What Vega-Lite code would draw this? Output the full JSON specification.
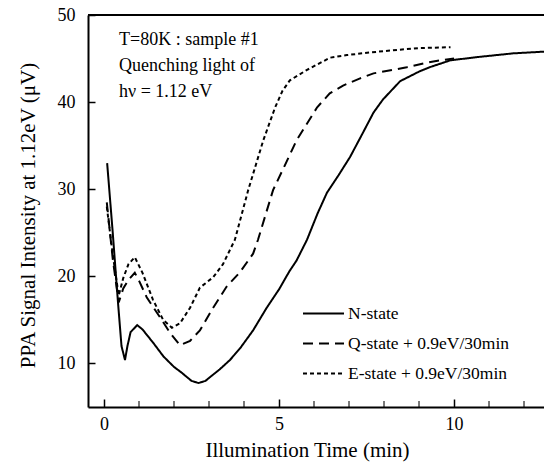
{
  "$schema": "https://vega.github.io/schema/vega-lite/v6.json",
  "width": 456,
  "height": 392,
  "autosize": {"type": "none"},
  "padding": {"left": 88, "top": 15, "right": 0, "bottom": 59},
  "background": "white",
  "view": {"stroke": null},
  "config": {
    "font": "Liberation Serif",
    "axis": {"grid": false, "domainColor": "black", "domainWidth": 2, "tickColor": "black", "tickWidth": 1.5, "labelColor": "black", "titleColor": "black", "labelFont": "Liberation Serif", "titleFont": "Liberation Serif", "titleFontWeight": "normal", "labelFontSize": 18, "titleFontSize": 21},
    "axisY": {"titleX": -60, "titleY": 200, "titleBaseline": "middle", "titleAlign": "center", "titleAngle": -90}
  },
  "layer": [
    {
      "data": {"values": [
        {"state": "N-state", "t": 0.09, "v": 33.0},
        {"state": "N-state", "t": 0.25, "v": 25.0},
        {"state": "N-state", "t": 0.4, "v": 17.0},
        {"state": "N-state", "t": 0.5, "v": 12.0},
        {"state": "N-state", "t": 0.6, "v": 10.4},
        {"state": "N-state", "t": 0.67, "v": 12.0},
        {"state": "N-state", "t": 0.76, "v": 13.6},
        {"state": "N-state", "t": 0.95, "v": 14.4},
        {"state": "N-state", "t": 1.1, "v": 13.9},
        {"state": "N-state", "t": 1.4, "v": 12.4},
        {"state": "N-state", "t": 1.7, "v": 10.8},
        {"state": "N-state", "t": 2.0, "v": 9.6},
        {"state": "N-state", "t": 2.2, "v": 9.0},
        {"state": "N-state", "t": 2.5, "v": 8.0},
        {"state": "N-state", "t": 2.7, "v": 7.75},
        {"state": "N-state", "t": 2.9, "v": 8.0},
        {"state": "N-state", "t": 3.05, "v": 8.5},
        {"state": "N-state", "t": 3.3, "v": 9.3},
        {"state": "N-state", "t": 3.6, "v": 10.4},
        {"state": "N-state", "t": 3.9, "v": 11.8},
        {"state": "N-state", "t": 4.26, "v": 13.8},
        {"state": "N-state", "t": 4.65, "v": 16.4},
        {"state": "N-state", "t": 5.0, "v": 18.5},
        {"state": "N-state", "t": 5.3, "v": 20.6},
        {"state": "N-state", "t": 5.5, "v": 21.8},
        {"state": "N-state", "t": 5.8, "v": 24.2},
        {"state": "N-state", "t": 6.1, "v": 27.2},
        {"state": "N-state", "t": 6.37, "v": 29.6},
        {"state": "N-state", "t": 6.7, "v": 31.6},
        {"state": "N-state", "t": 7.03, "v": 33.7},
        {"state": "N-state", "t": 7.4, "v": 36.5},
        {"state": "N-state", "t": 7.7, "v": 38.8},
        {"state": "N-state", "t": 7.97, "v": 40.3},
        {"state": "N-state", "t": 8.46, "v": 42.4},
        {"state": "N-state", "t": 9.0, "v": 43.5},
        {"state": "N-state", "t": 9.3, "v": 44.0},
        {"state": "N-state", "t": 9.9, "v": 44.8},
        {"state": "N-state", "t": 10.74, "v": 45.2},
        {"state": "N-state", "t": 11.7, "v": 45.6},
        {"state": "N-state", "t": 12.6, "v": 45.8},
        {"state": "Q-state + 0.9eV/30min", "t": 0.08, "v": 28.5},
        {"state": "Q-state + 0.9eV/30min", "t": 0.25, "v": 22.0},
        {"state": "Q-state + 0.9eV/30min", "t": 0.42, "v": 17.0},
        {"state": "Q-state + 0.9eV/30min", "t": 0.55, "v": 18.6},
        {"state": "Q-state + 0.9eV/30min", "t": 0.7, "v": 19.6},
        {"state": "Q-state + 0.9eV/30min", "t": 0.88, "v": 20.4},
        {"state": "Q-state + 0.9eV/30min", "t": 1.0, "v": 19.5},
        {"state": "Q-state + 0.9eV/30min", "t": 1.22, "v": 17.6},
        {"state": "Q-state + 0.9eV/30min", "t": 1.6, "v": 15.3},
        {"state": "Q-state + 0.9eV/30min", "t": 1.89, "v": 13.5},
        {"state": "Q-state + 0.9eV/30min", "t": 2.17, "v": 12.1},
        {"state": "Q-state + 0.9eV/30min", "t": 2.46, "v": 12.6},
        {"state": "Q-state + 0.9eV/30min", "t": 2.74, "v": 13.8},
        {"state": "Q-state + 0.9eV/30min", "t": 3.12, "v": 16.4},
        {"state": "Q-state + 0.9eV/30min", "t": 3.5, "v": 18.8},
        {"state": "Q-state + 0.9eV/30min", "t": 3.89, "v": 20.5},
        {"state": "Q-state + 0.9eV/30min", "t": 4.26, "v": 22.6},
        {"state": "Q-state + 0.9eV/30min", "t": 4.4, "v": 24.2},
        {"state": "Q-state + 0.9eV/30min", "t": 4.83, "v": 29.9},
        {"state": "Q-state + 0.9eV/30min", "t": 5.15, "v": 32.6},
        {"state": "Q-state + 0.9eV/30min", "t": 5.5, "v": 35.6},
        {"state": "Q-state + 0.9eV/30min", "t": 6.09, "v": 39.4},
        {"state": "Q-state + 0.9eV/30min", "t": 6.45, "v": 41.0},
        {"state": "Q-state + 0.9eV/30min", "t": 6.83, "v": 41.9},
        {"state": "Q-state + 0.9eV/30min", "t": 7.3, "v": 42.7},
        {"state": "Q-state + 0.9eV/30min", "t": 7.7, "v": 43.3},
        {"state": "Q-state + 0.9eV/30min", "t": 8.65, "v": 44.0},
        {"state": "Q-state + 0.9eV/30min", "t": 9.2, "v": 44.5},
        {"state": "Q-state + 0.9eV/30min", "t": 9.6, "v": 44.8},
        {"state": "Q-state + 0.9eV/30min", "t": 10.0, "v": 45.0},
        {"state": "E-state + 0.9eV/30min", "t": 0.08, "v": 28.0},
        {"state": "E-state + 0.9eV/30min", "t": 0.25, "v": 22.5},
        {"state": "E-state + 0.9eV/30min", "t": 0.42, "v": 17.8},
        {"state": "E-state + 0.9eV/30min", "t": 0.55, "v": 19.8},
        {"state": "E-state + 0.9eV/30min", "t": 0.7, "v": 21.4},
        {"state": "E-state + 0.9eV/30min", "t": 0.88, "v": 22.2},
        {"state": "E-state + 0.9eV/30min", "t": 1.1, "v": 20.4},
        {"state": "E-state + 0.9eV/30min", "t": 1.4, "v": 17.3},
        {"state": "E-state + 0.9eV/30min", "t": 1.69, "v": 15.0},
        {"state": "E-state + 0.9eV/30min", "t": 1.94, "v": 14.1},
        {"state": "E-state + 0.9eV/30min", "t": 2.17, "v": 14.6},
        {"state": "E-state + 0.9eV/30min", "t": 2.46, "v": 16.4},
        {"state": "E-state + 0.9eV/30min", "t": 2.74, "v": 18.7},
        {"state": "E-state + 0.9eV/30min", "t": 3.12, "v": 19.9},
        {"state": "E-state + 0.9eV/30min", "t": 3.4, "v": 21.4},
        {"state": "E-state + 0.9eV/30min", "t": 3.74, "v": 24.2},
        {"state": "E-state + 0.9eV/30min", "t": 4.12, "v": 29.9},
        {"state": "E-state + 0.9eV/30min", "t": 4.55, "v": 35.6},
        {"state": "E-state + 0.9eV/30min", "t": 4.89, "v": 39.4},
        {"state": "E-state + 0.9eV/30min", "t": 5.1, "v": 41.3},
        {"state": "E-state + 0.9eV/30min", "t": 5.31, "v": 42.5},
        {"state": "E-state + 0.9eV/30min", "t": 5.8, "v": 43.7},
        {"state": "E-state + 0.9eV/30min", "t": 6.46, "v": 45.1},
        {"state": "E-state + 0.9eV/30min", "t": 6.94, "v": 45.4},
        {"state": "E-state + 0.9eV/30min", "t": 7.6, "v": 45.7},
        {"state": "E-state + 0.9eV/30min", "t": 8.4, "v": 46.0},
        {"state": "E-state + 0.9eV/30min", "t": 9.0, "v": 46.2},
        {"state": "E-state + 0.9eV/30min", "t": 9.9, "v": 46.3}
      ]},
      "mark": {"type": "line", "color": "black", "strokeWidth": 2, "clip": true},
      "encoding": {
        "x": {"field": "t", "type": "quantitative",
          "scale": {"domain": [-0.457, 12.571], "nice": false, "zero": false},
          "axis": {"title": "Illumination Time (min)", "values": [0,5,10], "tickSize": -8,
            "labelPadding": 16, "labelFlush": false, "labelOverlap": false, "titlePadding": 6, "titleX": 219}},
        "y": {"field": "v", "type": "quantitative",
          "scale": {"domain": [5, 50], "nice": false, "zero": false},
          "axis": {"title": "PPA Signal Intensity  at 1.12eV (μV)", "values": [10,20,30,40,50],
            "tickSize": -7, "labelPadding": 20, "labelFlush": false, "labelOverlap": false}},
        "strokeDash": {"field": "state", "type": "nominal",
          "scale": {"domain": ["N-state", "Q-state + 0.9eV/30min", "E-state + 0.9eV/30min"], "range": [[1, 0], [10, 6], [4, 3]]},
          "legend": {"title": null, "orient": "none", "legendX": 214, "legendY": 277, "symbolType": "stroke", "symbolSize": 1681, "symbolStrokeWidth": 2, "symbolStrokeColor": "black", "labelFontSize": 17.5, "labelFont": "Liberation Serif", "labelColor": "black", "labelOffset": 3, "labelLimit": 0, "rowPadding": -11}},
        "detail": {"field": "state", "type": "nominal"},
        "order": {"field": "t", "type": "quantitative"}
      }
    },
    {
      "data": {"values": [{"t": 1}, {"t": 2}, {"t": 3}, {"t": 4}, {"t": 6}, {"t": 7}, {"t": 8}, {"t": 9}, {"t": 11}, {"t": 12}]},
      "mark": {"type": "tick", "orient": "vertical", "color": "black", "thickness": 1.5, "size": 6, "yOffset": -3},
      "encoding": {
        "x": {"field": "t", "type": "quantitative"},
        "y": {"datum": 5}
      }
    },
    {
      "data": {"values": [{}]},
      "mark": {"type": "rule", "color": "black", "strokeWidth": 2},
      "encoding": {"y": {"datum": 50}}
    },
    {
      "data": {"values": [{}]},
      "mark": {"type": "text", "text": ["T=80K : sample #1", "Quenching light of", "hν = 1.12 eV"], "lineHeight": 26, "align": "left", "baseline": "alphabetic", "font": "Liberation Serif", "fontSize": 18, "color": "black"},
      "encoding": {"x": {"datum": 0.43}, "y": {"datum": 46.56}}
    }
  ]
}
